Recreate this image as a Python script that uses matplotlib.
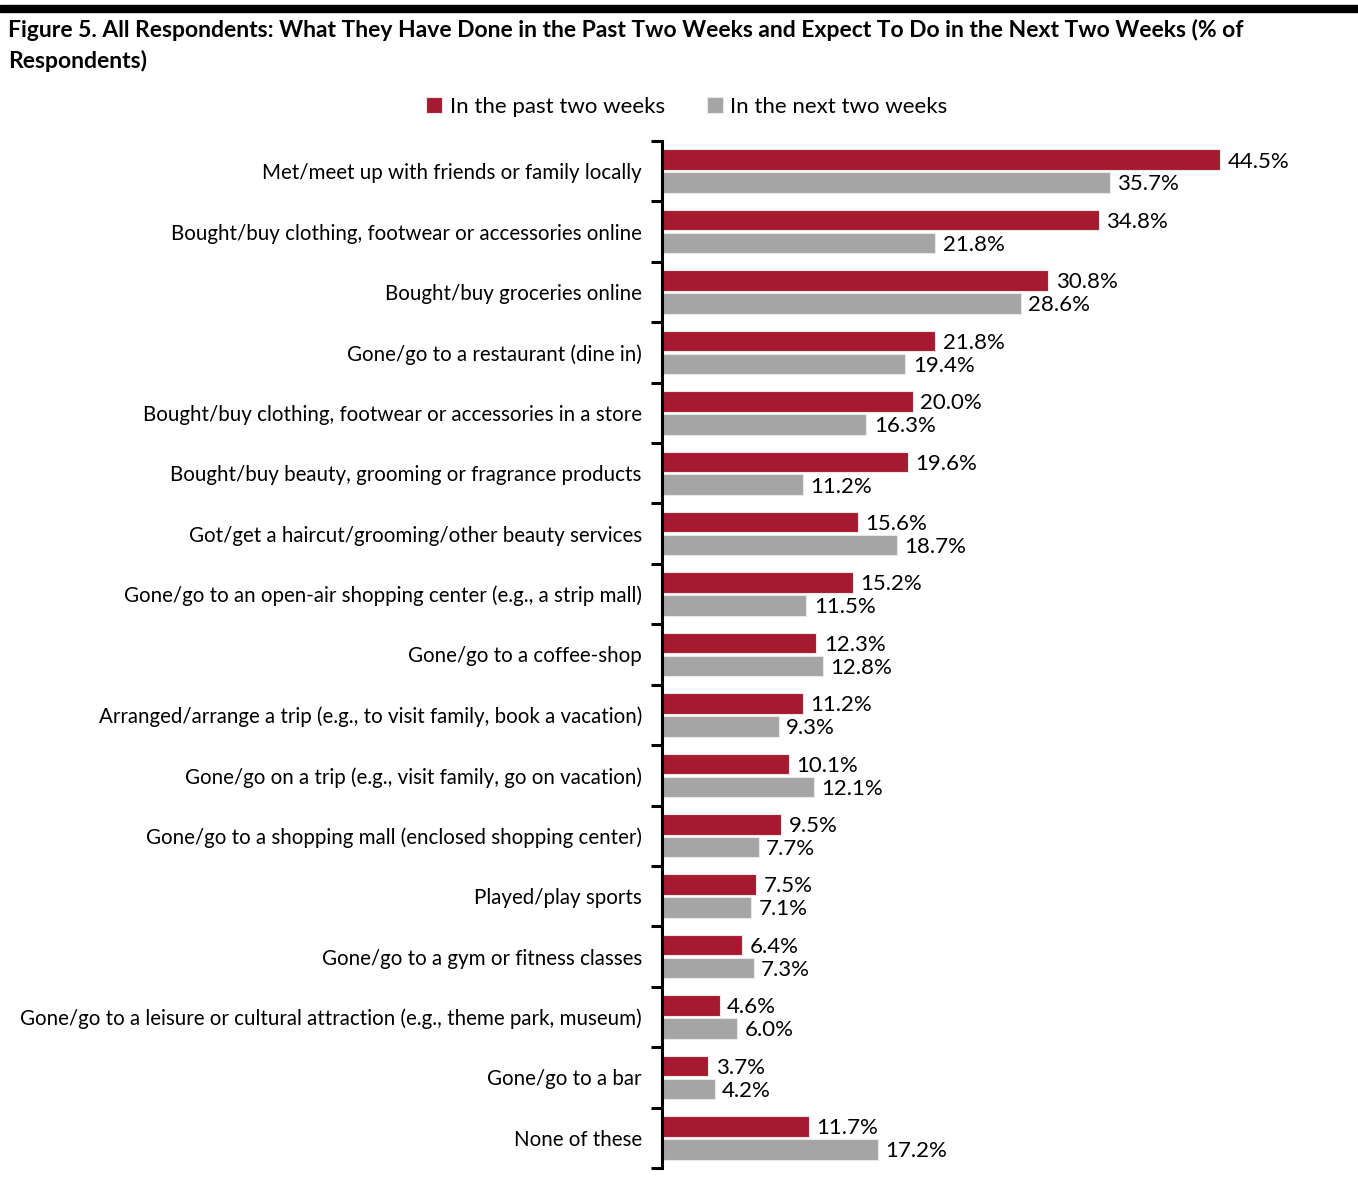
import matplotlib
matplotlib.use("Agg")
import matplotlib.pyplot as plt
from matplotlib.patches import Rectangle
import numpy as np

plt.rcParams['font.family'] = ['Lato', 'DejaVu Sans']

categories = [
    "Met/meet up with friends or family locally",
    "Bought/buy clothing, footwear or accessories online",
    "Bought/buy groceries online",
    "Gone/go to a restaurant (dine in)",
    "Bought/buy clothing, footwear or accessories in a store",
    "Bought/buy beauty, grooming or fragrance products",
    "Got/get a haircut/grooming/other beauty services",
    "Gone/go to an open-air shopping center (e.g., a strip mall)",
    "Gone/go to a coffee-shop",
    "Arranged/arrange a trip (e.g., to visit family, book a vacation)",
    "Gone/go on a trip (e.g., visit family, go on vacation)",
    "Gone/go to a shopping mall (enclosed shopping center)",
    "Played/play sports",
    "Gone/go to a gym or fitness classes",
    "Gone/go to a leisure or cultural attraction (e.g., theme park, museum)",
    "Gone/go to a bar",
    "None of these",
]
past_two_weeks = [44.5, 34.8, 30.8, 21.8, 20.0, 19.6, 15.6, 15.2, 12.3, 11.2,
                  10.1, 9.5, 7.5, 6.4, 4.6, 3.7, 11.7]
next_two_weeks = [35.7, 21.8, 28.6, 19.4, 16.3, 11.2, 18.7, 11.5, 12.8, 9.3,
                  12.1, 7.7, 7.1, 7.3, 6.0, 4.2, 17.2]
series_names = ["In the past two weeks", "In the next two weeks"]

red = "#A6192E"
gray = "#A5A5A5"

fig = plt.figure(figsize=(13.58, 11.82), dpi=100)
ax = fig.add_axes([662 / 1358, 1 - 1168 / 1182, 690 / 1358, 1027 / 1182])

y = np.arange(len(categories))
h = 0.34
off = h / 2 + 0.02
b1 = ax.barh(y - off, past_two_weeks, height=h, color=red,
             edgecolor="#e8e8e8", linewidth=0.8, label=series_names[0])
b2 = ax.barh(y + off, next_two_weeks, height=h, color=gray,
             edgecolor="#e8e8e8", linewidth=0.8, label=series_names[1])

for yy, v in zip(y, past_two_weeks):
    ax.text(v + 0.6, yy - off + 0.03, f"{v:.1f}%", va="center", ha="left",
            fontsize=16)
for yy, v in zip(y, next_two_weeks):
    ax.text(v + 0.6, yy + off + 0.03, f"{v:.1f}%", va="center", ha="left",
            fontsize=16)

ax.set_xlim(0, 55)
ax.set_ylim(len(categories) - 0.5, -0.5)
ax.set_yticks(y)
ax.set_yticklabels(categories, fontsize=14.8)
ax.tick_params(axis="y", which="major", length=0, pad=14.5)
ax.set_yticks(np.arange(len(categories) + 1) - 0.5, minor=True)
ax.tick_params(axis="y", which="minor", length=8, width=2.2, direction="out")
ax.set_xticks([])
for s in ["top", "right", "bottom"]:
    ax.spines[s].set_visible(False)
ax.spines["left"].set_linewidth(2.2)

# top black band
fig.patches.append(Rectangle((0, 1 - 12 / 1182), 1, 7 / 1182,
                             transform=fig.transFigure, color="black"))

fig.text(8 / 1358, 1 - 19 / 1182,
         "Figure 5. All Respondents: What They Have Done in the Past Two Weeks and Expect To Do in the Next Two Weeks (% of\nRespondents)",
         fontsize=16.5, fontweight="bold", va="top", ha="left",
         linespacing=1.5)

fig.legend(handles=[b1, b2], labels=series_names, loc="center",
           bbox_to_anchor=(687 / 1358, 1 - 107 / 1182), ncol=2, frameon=False,
           fontsize=16, handlelength=0.7, handleheight=0.7, handletextpad=0.35,
           columnspacing=1.9)

fig.savefig("out.png", dpi=100)
